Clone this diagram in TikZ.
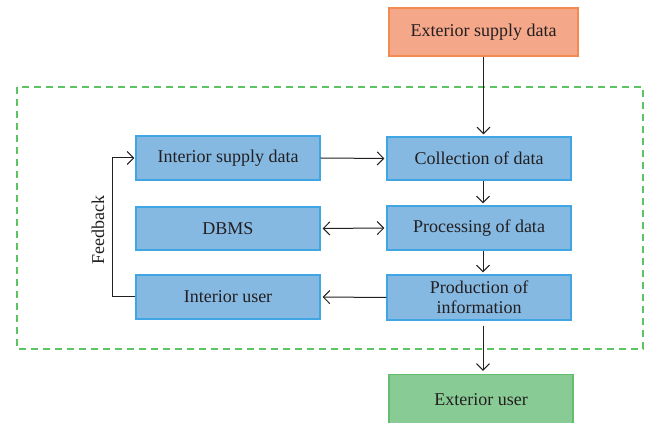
\documentclass[tikz,border=0pt]{standalone}
\usepackage{fontspec}
\setmainfont{Liberation Serif}
\usetikzlibrary{arrows.meta}
\definecolor{boxblue}{HTML}{85B9E2}
\definecolor{edgeblue}{HTML}{3FA6E3}
\definecolor{boxsalmon}{HTML}{F5A78A}
\definecolor{edgesalmon}{HTML}{F28A52}
\definecolor{boxgreen}{HTML}{89CB95}
\definecolor{edgegreen}{HTML}{62BD6C}
\definecolor{dashgreen}{HTML}{5CC463}
\definecolor{ink}{HTML}{231F20}
\tikzset{
  flowbox/.style={draw=edgeblue, fill=boxblue, line width=1.2pt, minimum width=184pt,
    minimum height=44pt, inner sep=0pt, align=center, font=\fontsize{18}{19}\selectfont, text=ink},
  insidebox/.style={flowbox},
  sourcebox/.style={flowbox, draw=edgesalmon, fill=boxsalmon, minimum width=189pt, minimum height=48pt},
  sinkbox/.style={flowbox, draw=edgegreen, fill=boxgreen, minimum height=51pt},
  link/.style={draw=ink, line width=1pt, -{Straight Barb[length=6.5pt,width=13pt]}},
  dlink/.style={draw=ink, line width=1pt, {Straight Barb[length=6.5pt,width=13pt]}-{Straight Barb[length=6.5pt,width=13pt]}}
}
\begin{document}
\begin{tikzpicture}[x=1pt,y=1pt]
\useasboundingbox (0,0) rectangle (646,423);
\begin{scope}
\clip (0,0) rectangle (646,423);
% system boundary
\draw[dashgreen, line width=1.4pt, dash pattern=on 7pt off 5pt] (17,336) rectangle (643,74);
% nodes
\node[sourcebox] (esd) at (483.5,391) {Exterior supply data};
\node[insidebox] (isd) at (228,265) {Interior supply data};
\node[insidebox, minimum height=43pt] (dbms) at (228,194.5) {DBMS};
\node[insidebox] (iu) at (228,126) {Interior user};
\node[insidebox, minimum height=43pt] (cd) at (479,264.5) {Collection of data};
\node[insidebox] (pd) at (479,195) {Processing of data};
\node[insidebox, minimum height=45pt, font=\fontsize{18}{20.5}\selectfont] (pi) at (479,125.5) {Production of\\information};
\node[sinkbox] (eu) at (481,23) {Exterior user};
% connectors
\draw[link, shorten >=2pt] (esd.south) -- ([xshift=4.5pt]cd.north);
\draw[link, shorten >=2pt] (isd.east) -- (cd.west);
\draw[dlink, shorten >=2pt, shorten <=2pt] (dbms.east) -- (pd.west);
\draw[link, shorten >=2pt] (pi.west) -- (iu.east);
\draw[link, shorten >=2pt] ([xshift=4pt]cd.south) -- ([xshift=4pt]pd.north);
\draw[link, shorten >=2pt] ([xshift=4pt]pd.south) -- ([xshift=4pt]pi.north);
\draw[link, shorten >=3pt, shorten <=5pt] ([xshift=4pt]pi.south) -- ([xshift=2pt]eu.north);
\coordinate (fbtop) at (112,265);
\coordinate (fbbot) at (112,126);
\draw[link, shorten >=1pt] (iu.west) -- (fbbot) -- (fbtop) -- (isd.west);
\node[rotate=90, font=\fontsize{18}{19}\selectfont, text=ink] (fb) at (98,193) {Feedback};
\end{scope}
\end{tikzpicture}
\end{document}
